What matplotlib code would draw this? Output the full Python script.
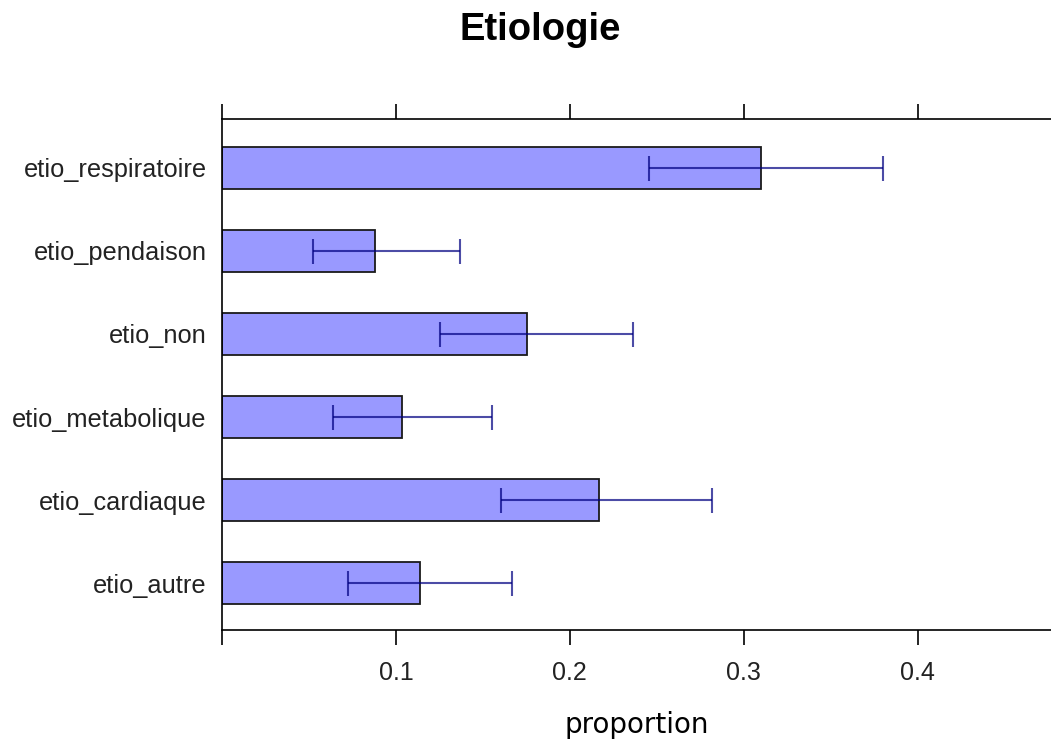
import numpy as np
import matplotlib
matplotlib.use("Agg")
import matplotlib.pyplot as plt

# proportions per etiology, with lower/upper confidence bounds
categories = ["etio_autre", "etio_cardiaque", "etio_metabolique",
              "etio_non", "etio_pendaison", "etio_respiratoire"]
proportion = [0.114, 0.217, 0.1036, 0.1756, 0.0881, 0.3097]
lower = [0.0725, 0.1606, 0.0639, 0.1255, 0.0524, 0.2453]
upper = [0.167, 0.2815, 0.1554, 0.2366, 0.137, 0.380]
xticks = [0.0, 0.1, 0.2, 0.3, 0.4]
xticklabels = ["", "0.1", "0.2", "0.3", "0.4"]

fig = plt.figure(figsize=(10.51, 7.4), dpi=100)
ax = fig.add_axes([222 / 1051, 1 - 630 / 740, 1 - 222 / 1051, (630 - 119) / 740])

y = np.arange(len(categories))
p = np.array(proportion)
err = np.vstack([p - np.array(lower), np.array(upper) - p])

ax.barh(y, p, height=0.5, color="#9999ff", edgecolor="#1a1a1a", linewidth=1.3, zorder=2)
ax.errorbar(p, y, xerr=err, fmt="none", ecolor="#000080", alpha=0.7,
            elinewidth=1.5, capsize=9, capthick=1.5, zorder=3)

ax.set_xlim(0, 0.4767)
ax.set_ylim(-0.566, 5.59)

ax.set_yticks(y)
ax.set_yticklabels(categories, fontsize=18.3, family="Liberation Sans", color="#222222")
ax.tick_params(axis="y", length=0, pad=11)

ax.set_xticks(xticks)
ax.set_xticklabels(xticklabels, fontsize=18, family="Liberation Sans", color="#222222")
ax.tick_params(axis="x", top=True, bottom=True, direction="out", length=11,
               width=1.2, pad=11)

ax.spines["right"].set_visible(False)
for s in ["left", "top", "bottom"]:
    ax.spines[s].set_linewidth(1.2)

ax.set_xlabel("proportion", fontsize=20, family="DejaVu Sans", labelpad=19)
fig.text(540 / 1051, 1 - 30 / 740, "Etiologie", ha="center", va="center",
         fontsize=27.5, fontweight="bold", family="Liberation Sans")

fig.savefig("out.png", dpi=100)
